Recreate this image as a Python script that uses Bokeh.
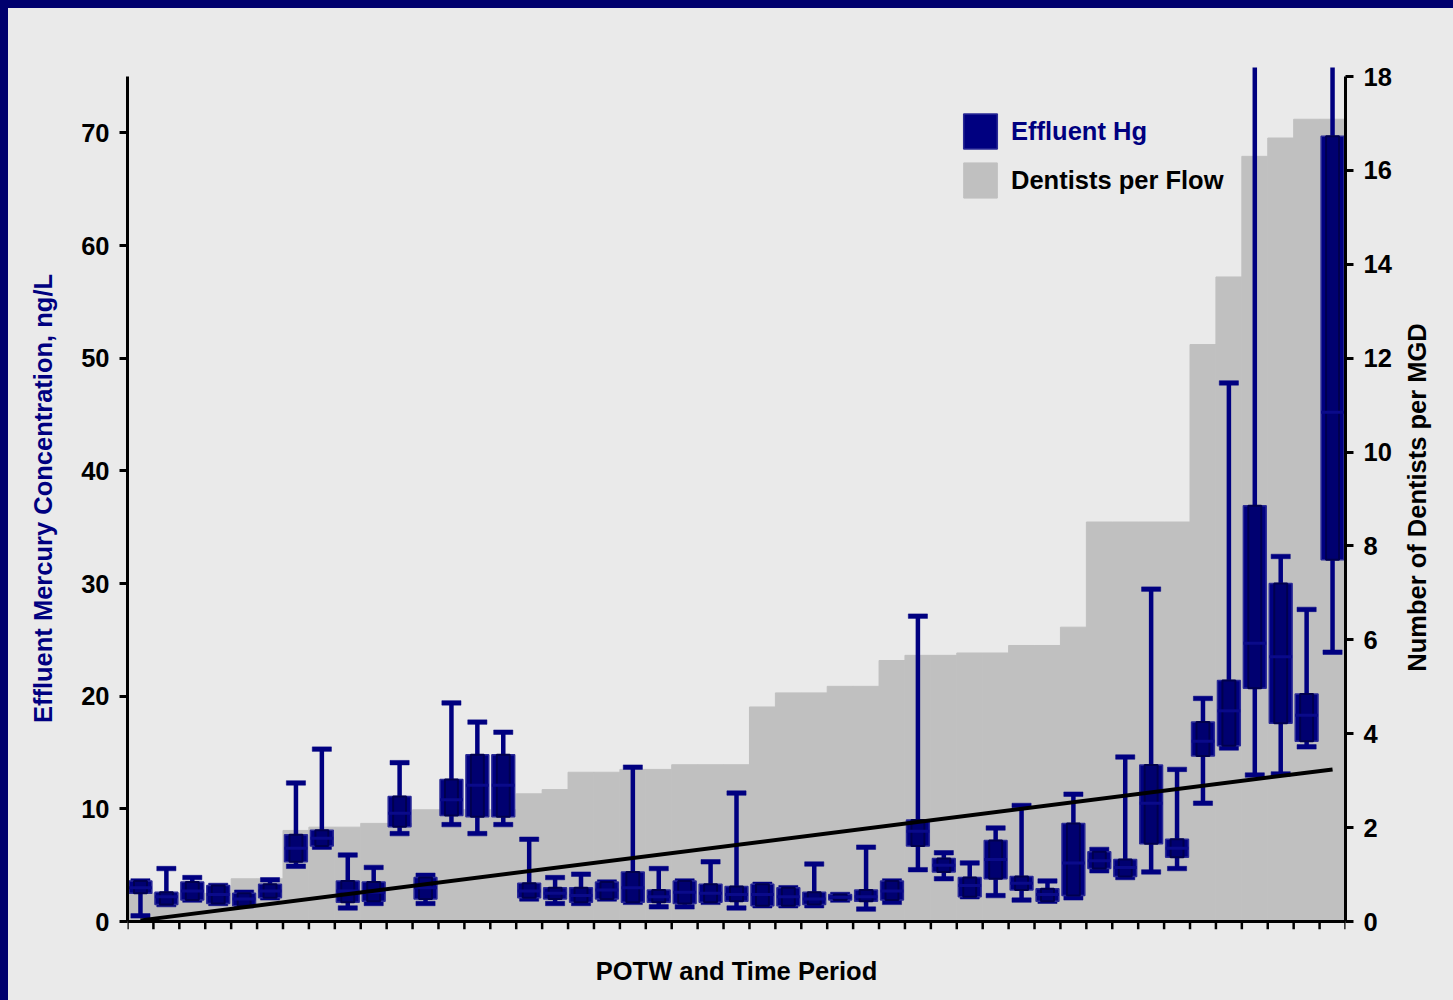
import numpy as np
from bokeh.plotting import figure
from bokeh.layouts import row
from bokeh.models import Range1d, LinearAxis, FixedTicker, Legend, LegendItem, Span, Label
from bokeh.embed import file_html
from bokeh.resources import INLINE

# Effluent Hg box statistics per POTW/time period (ng/L)
hg_low = [0.5, 1.5, 1.9, 1.6, 1.4, 2.1, 4.9, 6.6, 1.2, 1.6,
          7.8, 1.6, 8.6, 7.8, 8.6, 2.0, 1.6, 1.6, 2.0, 1.7,
          1.3, 1.3, 1.7, 1.2, 1.4, 1.4, 1.4, 1.9, 1.1, 1.7,
          4.6, 3.8, 2.2, 2.3, 1.9, 1.8, 2.1, 4.5, 3.9, 4.4,
          4.7, 10.5, 15.4, 13.0, 13.1, 15.5, 23.9]
hg_q1 = [2.5, 1.5, 1.9, 1.6, 1.4, 2.1, 5.3, 6.7, 1.7, 1.8,
         8.4, 2.0, 9.4, 9.3, 9.3, 2.1, 2.0, 1.7, 2.0, 1.7,
         1.7, 1.6, 1.7, 1.8, 1.4, 1.4, 1.5, 1.9, 1.8, 1.9,
         6.7, 4.4, 2.2, 3.8, 2.8, 1.8, 2.3, 4.7, 4.0, 6.9,
         5.7, 14.7, 15.6, 20.7, 17.6, 16.0, 32.1]
hg_median = [3.0, 2.2, 2.7, 2.4, 2.0, 2.7, 6.5, 7.4, 2.7, 2.6,
             9.6, 3.0, 10.8, 12.1, 12.1, 2.7, 2.5, 2.3, 2.8, 3.0,
             2.2, 2.6, 2.5, 2.4, 2.4, 2.2, 2.0, 2.15, 2.2, 2.7,
             8.0, 5.0, 3.2, 5.5, 3.4, 2.4, 5.2, 5.4, 4.8, 10.5,
             6.5, 16.0, 18.7, 24.7, 23.5, 18.3, 45.2]
hg_q3 = [3.6, 2.6, 3.5, 3.2, 2.5, 3.3, 7.7, 8.1, 3.6, 3.5,
         11.1, 3.9, 12.6, 14.8, 14.8, 3.4, 3.0, 3.0, 3.5, 4.4,
         2.8, 3.6, 3.3, 3.1, 3.3, 3.0, 2.6, 2.4, 2.8, 3.6,
         9.0, 5.6, 3.9, 7.2, 4.0, 2.9, 8.7, 6.2, 5.5, 13.9,
         7.3, 17.7, 21.4, 36.9, 30.0, 20.2, 69.7]
hg_high = [3.6, 4.7, 3.9, 3.2, 2.6, 3.7, 12.3, 15.3, 5.9, 4.8,
           14.1, 4.1, 19.4, 17.7, 16.8, 7.3, 3.9, 4.2, 3.5, 13.7,
           4.7, 3.6, 5.3, 11.4, 3.3, 3.0, 5.1, 2.4, 6.6, 3.6,
           27.1, 6.1, 5.2, 8.3, 10.3, 3.6, 11.3, 6.4, 14.6, 29.5,
           13.5, 19.8, 47.8, 90.0, 32.4, 27.7, 90.0]

# Dentists per flow (number of dentists per MGD)
dentists_per_mgd = [0.6, 0.6, 0.6, 0.6, 0.91, 0.91, 1.94, 2.01, 2.01, 2.09,
                    2.09, 2.38, 2.38, 2.38, 2.38, 2.72, 2.81, 3.18, 3.18, 3.24,
                    3.24, 3.34, 3.34, 3.34, 4.57, 4.87, 4.87, 5.01, 5.01, 5.56,
                    5.67, 5.67, 5.72, 5.72, 5.88, 5.88, 6.27, 8.51, 8.51, 8.51,
                    8.51, 12.29, 13.73, 16.30, 16.69, 17.09, 17.09]

# Trend line (ng/L) at first and last period
trend_hg = [0.1, 13.5]

left_ticks = [0, 10, 20, 30, 40, 50, 60, 70]
right_ticks = [0, 2, 4, 6, 8, 10, 12, 14, 16, 18]

NAVY = "#000080"
BG = "#EAEAEA"
FONT = "Liberation Sans"
FS = "25.5px"

n = len(hg_q1)
x = np.arange(n) + 0.5
y_top = 75.8
y_bottom = -0.71          # room below zero for the x tick marks
ratio = 18 / 75           # right axis units per left axis unit

p = figure(width=1389, height=984, x_range=Range1d(0, n), y_range=Range1d(y_bottom, y_top),
           output_backend="svg", toolbar_location=None,
           min_border_left=119, min_border_right=52, min_border_top=59, min_border_bottom=63,
           background_fill_color=BG, border_fill_color=BG,
           outline_line_color=None)
p.extra_y_ranges = {"dent": Range1d(y_bottom * ratio, y_top * ratio)}
p.xgrid.visible = False
p.ygrid.visible = False

# Dentists per flow as a step area
dent_r = p.vbar(x=x, top=dentists_per_mgd, bottom=0, width=1.0, y_range_name="dent",
                fill_color="#C0C0C0", line_color="#C0C0C0", line_width=1)

# Whiskers and caps
p.segment(x0=x, y0=hg_low, x1=x, y1=hg_high, line_color=NAVY, line_width=4.5)
p.rect(x=x, y=hg_low, width=0.74, height=4.5, height_units="screen",
       fill_color=NAVY, line_color=NAVY, line_width=0.5)
p.rect(x=x, y=hg_high, width=0.74, height=4.5, height_units="screen",
       fill_color=NAVY, line_color=NAVY, line_width=0.5)

# Boxes
box_r = p.vbar(x=x, top=hg_q3, bottom=hg_q1, width=0.88,
               fill_color=NAVY, line_color="#2A2A96", line_width=1.5)
p.vbar(x=x, top=hg_q3, bottom=hg_q1, width=0.5,
       fill_color="#000070", line_color="#00004E", line_width=2)
p.segment(x0=x - 0.44, y0=hg_median, x1=x + 0.44, y1=hg_median,
          line_color="#0A0A8A", line_width=3)

# Trend line
p.line(x=[x[0], x[-1]], y=trend_hg, line_color="black", line_width=4)

# X axis line and tick marks at period boundaries
x_ticks = np.arange(n + 1)
p.segment(x0=x_ticks, y0=np.zeros(n + 1), x1=x_ticks, y1=np.full(n + 1, y_bottom),
          line_color="black", line_width=2.5)
p.add_layout(Span(location=0, dimension="width", line_color="black", line_width=3))

# Bottom axis: title only
xa = p.xaxis[0]
xa.ticker = FixedTicker(ticks=[])
xa.axis_line_color = None
xa.major_tick_line_color = None
xa.minor_tick_line_color = None
xa.major_tick_out = 0
xa.major_label_standoff = 0
xa.axis_label = "POTW and Time Period"
xa.axis_label_text_font = FONT
xa.axis_label_text_font_style = "bold"
xa.axis_label_text_font_size = FS
xa.axis_label_text_color = "black"
xa.axis_label_standoff = 27

ya = p.yaxis[0]
ya.ticker = FixedTicker(ticks=left_ticks)
ya.bounds = (0, 75)
ya.axis_line_width = 3
ya.axis_line_color = "black"
ya.major_tick_line_width = 3
ya.major_tick_line_color = "black"
ya.major_tick_out = 8
ya.major_tick_in = 0
ya.minor_tick_line_color = None
ya.major_label_text_font = FONT
ya.major_label_text_font_style = "bold"
ya.major_label_text_font_size = FS
ya.major_label_text_color = "black"
ya.major_label_standoff = 10
ya.axis_label = "Effluent Mercury Concentration, ng/L"
ya.axis_label_text_font = FONT
ya.axis_label_text_font_style = "bold"
ya.axis_label_text_font_size = FS
ya.axis_label_text_color = NAVY
ya.axis_label_standoff = 21

ra = LinearAxis(y_range_name="dent", ticker=FixedTicker(ticks=right_ticks), bounds=(0, 18))
ra.axis_line_width = 3
ra.axis_line_color = "black"
ra.major_tick_line_width = 3
ra.major_tick_line_color = "black"
ra.major_tick_out = 8
ra.major_tick_in = 0
ra.minor_tick_line_color = None
ra.major_label_text_font = FONT
ra.major_label_text_font_style = "bold"
ra.major_label_text_font_size = FS
ra.major_label_text_color = "black"
ra.major_label_standoff = 10
p.add_layout(ra, "right")

# Legends (two, so each label keeps its own colour)
common = dict(padding=0, margin=0, spacing=0, border_line_color=None,
              background_fill_alpha=0, glyph_width=42, glyph_height=44,
              label_standoff=10, label_text_font=FONT, label_text_font_style="bold",
              label_text_font_size=FS)
leg1 = Legend(items=[LegendItem(label="Effluent Hg", renderers=[box_r])],
              location=(832, 776), label_text_color=NAVY, **common)
leg2 = Legend(items=[LegendItem(label="Dentists per Flow", renderers=[dent_r])],
              location=(832, 727), label_text_color="black", **common)
p.add_layout(leg1, "center")
p.add_layout(leg2, "center")

# Right axis title, reading bottom to top, in a narrow side panel
side = figure(width=48, height=984, x_range=Range1d(0, 1), y_range=Range1d(0, 1),
              output_backend="svg", toolbar_location=None,
              x_axis_type=None, y_axis_type=None, min_border=0,
              background_fill_color=BG, border_fill_color=BG, outline_line_color=None)
side.xgrid.visible = False
side.ygrid.visible = False
side.add_layout(Label(x=19, y=432, x_units="screen", y_units="screen",
                      text="Number of Dentists per MGD", angle=90, angle_units="deg",
                      text_align="center", text_baseline="middle",
                      text_font=FONT, text_font_style="bold", text_font_size=FS,
                      text_color="black"))

layout = row(p, side, spacing=0)

page_style = """{% block preamble %}<style>
html { background: #00006E !important; overflow: hidden !important; }
body { background: #EAEAEA !important; margin: 8px 0 0 8px !important; padding: 0 !important;
       min-height: 1000px !important; }
</style>{% endblock %}"""

open("out.html", "w").write(file_html(layout, INLINE, template=page_style))
